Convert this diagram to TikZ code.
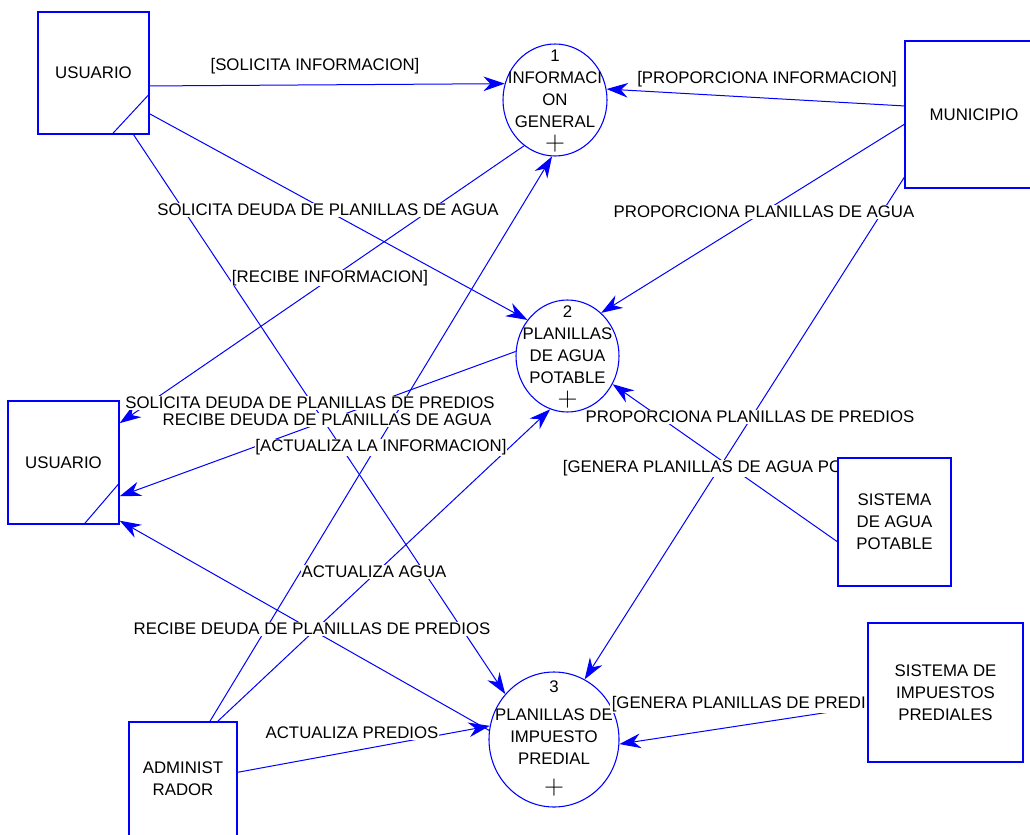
\documentclass[tikz,border=0pt]{standalone}
\usepackage[no-math]{fontspec}
\setmainfont{Liberation Sans}
\usetikzlibrary{shapes.geometric,arrows.meta,calc}
\pgfdeclarelayer{fore}
\pgfsetlayers{main,fore}
\tikzset{
	entity/.style={draw=blue,line width=1pt,fill=white,rectangle,inner sep=0pt,align=center},%
	process/.style={draw=blue,line width=0.8pt,ellipse,inner sep=0pt},%
	processtext/.style={align=center,inner sep=0pt},%
	flow/.style={blue,line width=0.75pt,-{Stealth[length=16pt,width=11pt]}},%
	flowlabel/.style={fill=white,inner sep=0.5pt},%
	corner/.style={blue,line width=0.75pt},%
}
\def\plus{{\fontsize{20}{16.5}\selectfont$+$}}

\begin{document}
\begin{tikzpicture}[x=0.75pt,y=-0.75pt,font=\fontsize{12.6}{16.5}\selectfont]
		\useasboundingbox (0,0) rectangle (1030,834);
		\clip (0,0) rectangle (1030,834);
		% entidades externas
		\begin{pgfonlayer}{fore}
		\node[entity,minimum width=83.25pt,minimum height=91.5pt] (usuario1) at (93.5,73) {USUARIO};
		\node[entity,minimum width=83.25pt,minimum height=92.25pt] (usuario2) at (63.5,462.5) {USUARIO};
		\node[entity,minimum width=103.5pt,minimum height=110.25pt] (municipio) at (974,114.5) {MUNICIPIO};
		\node[entity,minimum width=84.75pt,minimum height=96pt] (sisagua) at (894.5,522) {SISTEMA\\DE AGUA\\POTABLE};
		\node[entity,minimum width=116.25pt,minimum height=104.25pt] (sisimp) at (945.5,692.5) {SISTEMA DE\\IMPUESTOS\\PREDIALES};
		\node[entity,minimum width=81pt,minimum height=85.5pt] (admin) at (183,779) {ADMINIST\\RADOR};
		\draw[corner] ($(usuario1.south east)+(0,-41)$) -- ($(usuario1.south east)+(-38,0)$);
		\draw[corner] ($(usuario2.south east)+(0,-42)$) -- ($(usuario2.south east)+(-36,0)$);
		\end{pgfonlayer}
		% procesos
		\node[process,minimum width=78pt,minimum height=84pt] (informacion) at (555,100) {};
		\node[process,minimum width=77.25pt,minimum height=84pt] (planagua) at (567.5,356) {};
		\node[process,minimum width=97.5pt,minimum height=101.25pt] (impuesto) at (554,739.5) {};
		\node[processtext] (informaciontxt) at (555,101) {1\\INFORMACI\\ON\\GENERAL\\[1pt]\plus};
		\node[processtext] (planaguatxt) at (567.5,357) {2\\PLANILLAS\\DE AGUA\\POTABLE\\[1pt]\plus};
		\node[processtext] (impuestotxt) at (554,738.5) {3\\[4.5pt]PLANILLAS DE\\IMPUESTO\\PREDIAL\\[6pt]\plus};
		% flujos
		\draw[flow] (usuario1.-13) -- (informacion.162);
		\draw[flow] (municipio.173) -- (informacion.12);
		\draw[flow] (usuario1.-36.5) -- (planagua.138);
		\draw[flow] (informacion.236.6) -- (usuario2.35.4);
		\draw[flow] (usuario1.-57) -- (impuesto.137);
		\draw[flow] (planagua.175.6) -- (usuario2.-31);
		\draw[flow] (admin.65.5) -- (informacion.267);
		\draw[flow] (admin.59.2) -- (planagua.252.4);
		\draw[flow] (impuesto.172) -- (usuario2.-46.5);
		\draw[flow] (admin.7.4) -- (impuesto.168);
		\draw[flow] (municipio.188.7) -- (planagua.52);
		\draw[flow] (municipio.222.2) -- (impuesto.63.6);
		\draw[flow] (sisagua.199.5) -- (planagua.-32);
		\draw[flow] (sisimp.190) -- (impuesto.-4.8);
		% etiquetas
		\node[flowlabel] (lblsolinfo) at (315,66) {[SOLICITA INFORMACION]};
		\node[flowlabel] (lblpropinfo) at (767,79) {[PROPORCIONA INFORMACION]};
		\node[flowlabel] (lblsolagua) at (328,210) {SOLICITA DEUDA DE PLANILLAS DE AGUA};
		\node[flowlabel] (lblrecinfo) at (330,278) {[RECIBE INFORMACION]};
		\node[flowlabel] (lblpropagua) at (764,212) {PROPORCIONA PLANILLAS DE AGUA};
		\node[flowlabel] (lblsolpred) at (310,403) {SOLICITA DEUDA DE PLANILLAS DE PREDIOS};
		\node[flowlabel] (lblrecagua) at (327,420) {RECIBE DEUDA DE PLANILLAS DE AGUA};
		\node[flowlabel] (lblactinfo) at (381,447) {[ACTUALIZA LA INFORMACION]};
		\node[flowlabel] (lblproppred) at (750,417) {PROPORCIONA PLANILLAS DE PREDIOS};
		\node[flowlabel,anchor=west] (lblgenagua) at (562,468) {[GENERA PLANILLAS DE AGUA PO};
		\node[flowlabel] (lblactagua) at (374,572) {ACTUALIZA AGUA};
		\node[flowlabel] (lblrecpred) at (312,629) {RECIBE DEUDA DE PLANILLAS DE PREDIOS};
		\node[flowlabel,anchor=east,inner xsep=1.5pt] (lblgenpred) at (868,704) {[GENERA PLANILLAS DE PREDI};
		\node[flowlabel] (lblactpred) at (352,733) {ACTUALIZA PREDIOS};
	\end{tikzpicture}
\end{document}
